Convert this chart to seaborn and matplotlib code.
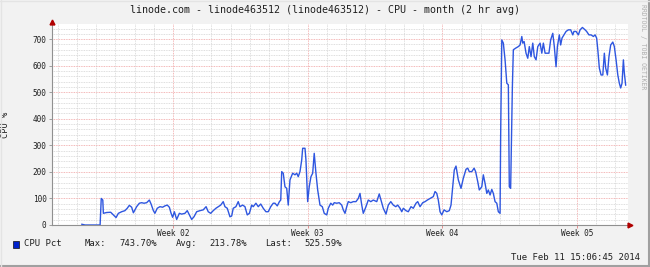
import numpy as np
import pandas as pd
import matplotlib
matplotlib.use("Agg")
import matplotlib.pyplot as plt
import seaborn as sns
from matplotlib.patches import Rectangle
from matplotlib.lines import Line2D

# ---- data (days since start of the month window, CPU %) ----
day = [1.54, 1.72, 2.50, 2.56, 2.64, 2.67, 2.84, 3.05, 3.19, 3.33, 3.45, 3.62, 3.79, 3.91, 4.02, 4.14,
       4.23, 4.40, 4.54, 4.66, 4.78, 4.92, 5.06, 5.15, 5.27, 5.35, 5.47, 5.61, 5.75, 5.87, 5.99, 6.10,
       6.19, 6.27, 6.36, 6.48, 6.62, 6.74, 6.91, 7.03, 7.14, 7.26, 7.38, 7.52, 7.69, 7.86, 8.01, 8.12,
       8.25, 8.38, 8.52, 8.64, 8.77, 8.90, 8.99, 9.11, 9.25, 9.34, 9.42, 9.56, 9.68, 9.77, 9.91, 10.03,
       10.15, 10.26, 10.38, 10.46, 10.60, 10.72, 10.85, 10.98, 11.12, 11.24, 11.37, 11.50, 11.59, 11.71,
       11.82, 11.89, 11.94, 12.02, 12.11, 12.20, 12.28, 12.37, 12.51, 12.63, 12.72, 12.80, 12.89, 12.98,
       13.03, 13.15, 13.20, 13.29, 13.37, 13.46, 13.55, 13.63, 13.72, 13.81, 13.93, 14.05, 14.15, 14.28,
       14.36, 14.49, 14.59, 14.67, 14.80, 14.93, 15.06, 15.14, 15.23, 15.32, 15.40, 15.53, 15.66, 15.80,
       15.92, 16.01, 16.10, 16.18, 16.32, 16.44, 16.57, 16.70, 16.88, 17.01, 17.10, 17.22, 17.36, 17.48,
       17.61, 17.74, 17.87, 17.97, 18.09, 18.18, 18.26, 18.40, 18.52, 18.66, 18.78, 18.92, 19.01, 19.13,
       19.27, 19.39, 19.51, 19.65, 19.82, 19.91, 20.00, 20.08, 20.17, 20.26, 20.38, 20.52, 20.65, 20.74,
       20.83, 20.91, 21.00, 21.12, 21.26, 21.38, 21.52, 21.61, 21.69, 21.82, 21.94, 22.02, 22.13, 22.21,
       22.34, 22.42, 22.51, 22.60, 22.68, 22.77, 22.86, 22.94, 23.03, 23.12, 23.20, 23.29, 23.32, 23.38,
       23.46, 23.55, 23.64, 23.72, 23.77, 23.84, 23.93, 23.98, 24.10, 24.24, 24.33, 24.42, 24.47, 24.54,
       24.64, 24.73, 24.81, 24.90, 24.99, 25.07, 25.16, 25.25, 25.37, 25.46, 25.54, 25.63, 25.75, 25.83,
       25.92, 26.03, 26.11, 26.20, 26.27, 26.37, 26.44, 26.51, 26.61, 26.72, 26.84, 26.96, 27.07, 27.13,
       27.24, 27.36, 27.45, 27.57, 27.71, 27.79, 27.91, 28.02, 28.14, 28.23, 28.31, 28.37, 28.45, 28.54,
       28.63, 28.71, 28.78, 28.87, 28.95, 29.04, 29.15, 29.23, 29.32, 29.41, 29.49, 29.56, 29.63, 29.70,
       29.75, 29.82]

cpu = [3, 0, 0, 100, 94, 44, 47, 48, 38, 28, 44, 50, 54, 63, 74, 67,
       46, 69, 82, 84, 82, 84, 94, 79, 54, 44, 63, 69, 67, 72, 75, 67,
       44, 29, 50, 21, 44, 41, 44, 54, 38, 21, 31, 50, 54, 57, 69, 50,
       44, 54, 63, 69, 75, 88, 69, 63, 31, 34, 63, 69, 88, 69, 75, 69,
       38, 44, 75, 69, 82, 69, 79, 63, 50, 50, 69, 82, 82, 72,
       88, 94, 201, 195, 144, 138, 75, 170, 195, 189, 195, 182, 201, 245,
       289, 289, 245, 88, 144, 182, 195, 270, 195, 132, 75, 69, 44, 38,
       63, 82, 75, 84, 82, 84, 75, 57, 44, 69, 88, 84, 88, 88,
       100, 119, 75, 44, 69, 94, 88, 94, 88, 117, 94, 63, 41, 75,
       88, 75, 69, 75, 63, 50, 63, 54, 50, 69, 63, 82, 88, 69,
       84, 88, 94, 100, 107, 126, 119, 94, 50, 38, 57, 50, 54, 75,
       144, 207, 222, 170, 138, 176, 210, 214, 201, 201, 214, 201, 163, 132,
       144, 189, 157, 119, 132, 113, 134, 119, 88, 82, 50, 44, 333, 697,
       685, 622, 534, 528, 144, 138, 521, 660, 666, 672, 678, 710, 685, 691,
       647, 628, 672, 634, 685, 634, 622, 672, 685, 647, 685, 647, 647, 647,
       697, 722, 672, 596, 672, 716, 678, 704, 716, 729, 735, 735, 716, 729,
       729, 716, 735, 744, 735, 729, 716, 716, 710, 716, 704, 660, 591, 565,
       565, 647, 591, 565, 634, 678, 689, 672, 622, 565, 534, 516, 534, 622,
       572, 526]

week_pos = [6.29, 13.29, 20.29, 27.29]
week_labels = ["Week 02", "Week 03", "Week 04", "Week 05"]
y_major = [0, 100, 200, 300, 400, 500, 600, 700]
y_label = "CPU %"
title = "linode.com - linode463512 (linode463512) - CPU - month (2 hr avg)"
series_name = "CPU Pct"
stat_names = ["Max:", "Avg:", "Last:"]
stat_values = ["743.70%", "213.78%", "525.59%"]
timestamp = "Tue Feb 11 15:06:45 2014"
credit = "RRDTOOL / TOBI OETIKER"

# ---- styling ----
sns.set_theme(style="white")
plt.rcParams["font.family"] = ["DejaVu Sans Mono"]

W, H = 650, 267
fig = plt.figure(figsize=(W / 100, H / 100), dpi=100, facecolor="#f2f2f2")
ax = fig.add_axes([52 / W, 1 - 225 / H, 576 / W, 201 / H])
ax.set_facecolor("white")

XMAX, YMAX = 29.94, 757

df = pd.DataFrame({"day": day, "cpu": cpu})
sns.lineplot(data=df, x="day", y="cpu", ax=ax, color="#2e56e0", linewidth=1.0,
             zorder=5, legend=False)

ax.set_xlim(0, XMAX)
ax.set_ylim(0, YMAX)

# ticks and grid
ax.set_xticks(week_pos)
ax.set_xticklabels(week_labels)
ax.set_xticks(np.arange(week_pos[0] % 1, XMAX, 1.0), minor=True)
ax.set_yticks(y_major)
ax.set_yticks(np.arange(20, YMAX, 20), minor=True)

dot = (0, (1, 1))
ax.grid(True, which="major", color="#f0a0a0", linestyle=dot, linewidth=0.6, zorder=1)
ax.grid(True, which="minor", color="#d4d4d4", linestyle=dot, linewidth=0.6, zorder=0)
ax.set_axisbelow(True)

ax.tick_params(axis="both", which="major", labelsize=5.6, length=2, width=0.6,
               color="#909090", labelcolor="#202020", pad=2, direction="out")
ax.tick_params(axis="x", which="major", pad=1, color="#e08080")
ax.tick_params(axis="both", which="minor", length=0)
ax.tick_params(left=True, bottom=True)

for s in ["top", "right"]:
    ax.spines[s].set_visible(False)
for s in ["left", "bottom"]:
    ax.spines[s].set_color("#909090")
    ax.spines[s].set_linewidth(0.8)
    ax.spines[s].set_zorder(6)

ax.set_xlabel("")
ax.set_ylabel(y_label, fontsize=6.2, color="#202020")
ax.yaxis.set_label_coords(-42 / 576, 0.5)

# axis arrows
ax.plot([0], [1 + 2 / 201], marker="^", markersize=3.5, color="#b00000",
        transform=ax.transAxes, clip_on=False, zorder=10)
ax.plot([1 + 2 / 576], [0], marker=">", markersize=3.5, color="#b00000",
        transform=ax.transAxes, clip_on=False, zorder=10)

# title
fig.text(0.5, 1 - 10 / H, title, ha="center", va="center", fontsize=7.2, color="#202020")

# credit on the right
fig.text(643 / W, 1 - 4 / H, credit, rotation=270, ha="center", va="top",
         fontsize=4.7, color="#b0b0b0")

# legend row
ly = 1 - 244 / H
fig.add_artist(Rectangle((12.5 / W, 1 - 247.5 / H), 6.5 / W, 7 / H,
                         transform=fig.transFigure, facecolor="#0022cc",
                         edgecolor="#101010", linewidth=0.5))
fig.text(24 / W, ly, series_name, ha="left", va="center", fontsize=6.4, color="#202020")
name_x = [85, 176, 265]
val_x = [119, 209, 304]
for nm, vl, nx, vx in zip(stat_names, stat_values, name_x, val_x):
    fig.text(nx / W, ly, nm, ha="left", va="center", fontsize=6.4, color="#202020")
    fig.text(vx / W, ly, vl, ha="left", va="center", fontsize=6.4, color="#202020")

fig.text(640 / W, 1 - 258 / H, timestamp, ha="right", va="center", fontsize=6.5, color="#202020")

# frame shading
fig.add_artist(Line2D([0, 1], [0.6 / H, 0.6 / H], transform=fig.transFigure,
                      color="#a0a0a0", linewidth=1.5))
fig.add_artist(Line2D([1 - 0.6 / W, 1 - 0.6 / W], [0, 1], transform=fig.transFigure,
                      color="#a0a0a0", linewidth=1.5))
fig.add_artist(Line2D([0, 1], [1 - 0.5 / H, 1 - 0.5 / H], transform=fig.transFigure,
                      color="#e4e4e4", linewidth=1.0))
fig.add_artist(Line2D([0.5 / W, 0.5 / W], [0, 1], transform=fig.transFigure,
                      color="#e4e4e4", linewidth=1.0))

fig.savefig("out.png", dpi=100, facecolor=fig.get_facecolor())
